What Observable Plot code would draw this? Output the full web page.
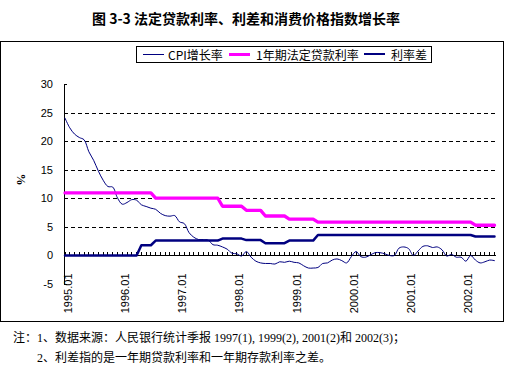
<!DOCTYPE html>
<html><head><meta charset="utf-8">
<script src="https://cdn.jsdelivr.net/npm/d3@7"></script>
<script src="https://cdn.jsdelivr.net/npm/@observablehq/plot@0.6"></script>
<style>
body{margin:0;background:#fff;}
#page{position:relative;width:506px;height:372px;background:#fff;overflow:hidden;font-family:"Noto Sans CJK SC",sans-serif;}
#title{position:absolute;left:0;width:492px;top:8px;text-align:center;font-weight:bold;font-size:14px;line-height:20px;color:#000;}
#box{position:absolute;left:0;top:41px;width:504px;height:281px;border:1px solid #000;box-sizing:border-box;}
#legend{position:absolute;left:136px;top:46px;width:296px;height:17px;border:1px solid #000;box-sizing:border-box;background:#fff;font-size:12px;line-height:15px;}
.sw{position:absolute;top:7px;height:0;}
.lt{position:absolute;top:0;color:#000;white-space:nowrap;}
#ylab{position:absolute;left:14px;top:172px;font-weight:bold;font-size:12px;transform:rotate(90deg);font-family:"Liberation Serif","Noto Sans CJK SC",serif;}
#chart{position:absolute;left:0;top:72px;}
.note{position:absolute;font-size:12px;line-height:16px;white-space:nowrap;font-family:"Liberation Serif","Noto Sans CJK SC",serif;color:#000;}
</style></head>
<body>
<div id="page">
  <div id="title">图 3-3 法定贷款利率、利差和消费价格指数增长率</div>
  <div id="box"></div>
  <div id="chart"></div>
  <div id="legend"></div>
  <div id="ylab">%</div>
  <div class="note" style="left:13px;top:330px;">注：1、数据来源：人民银行统计季报 1997(1), 1999(2), 2001(2)和 2002(3)；</div>
  <div class="note" style="left:37px;top:350px;">2、利差指的是一年期贷款利率和一年期存款利率之差。</div>
</div>
<script>
// Monthly series, 1995.01 – 2002.07
const seriesNames = ["CPI增长率", "1年期法定贷款利率", "利率差"];
const cpi = [
  24.1, 22.4, 21.3, 20.7, 20.3, 18.2, 16.7, 14.8, 13.2, 12.1, 12.0, 10.1,
  9.0, 9.3, 9.8, 9.7, 8.9, 8.6, 8.3, 8.1, 7.4, 7.0, 6.9, 7.0,
  5.9, 5.6, 4.0, 3.2, 2.8, 2.8, 2.7, 1.9, 1.8, 1.5, 1.1, 0.4,
  0.3, -0.1, 0.7, -0.3, -1.0, -1.3, -1.4, -1.4, -1.5, -1.1, -1.2, -1.0,
  -1.2, -1.3, -1.8, -2.2, -2.2, -2.1, -1.4, -1.3, -0.8, -0.6, -0.9, -1.3,
  -0.2, 0.7, -0.2, -0.3, 0.1, 0.5, 0.5, 0.3, 0.0, 0.0, 1.3, 1.5,
  1.2, 0.0, 0.8, 1.6, 1.7, 1.4, 1.5, 1.0, -0.1, 0.2, -0.3, -0.3,
  -1.0, 0.0, -0.8, -1.3, -1.1, -0.8, -0.9
];
const lendingRate = [
  10.98, 10.98, 10.98, 10.98, 10.98, 10.98, 10.98, 10.98, 10.98, 10.98, 10.98, 10.98,
  10.98, 10.98, 10.98, 10.98, 10.98, 10.98, 10.98, 10.08, 10.08, 10.08, 10.08, 10.08,
  10.08, 10.08, 10.08, 10.08, 10.08, 10.08, 10.08, 10.08, 10.08, 8.64, 8.64, 8.64,
  8.64, 8.64, 7.92, 7.92, 7.92, 7.92, 6.93, 6.93, 6.93, 6.93, 6.93, 6.39,
  6.39, 6.39, 6.39, 6.39, 6.39, 5.85, 5.85, 5.85, 5.85, 5.85, 5.85, 5.85,
  5.85, 5.85, 5.85, 5.85, 5.85, 5.85, 5.85, 5.85, 5.85, 5.85, 5.85, 5.85,
  5.85, 5.85, 5.85, 5.85, 5.85, 5.85, 5.85, 5.85, 5.85, 5.85, 5.85, 5.85,
  5.85, 5.85, 5.31, 5.31, 5.31, 5.31, 5.31
];
const spread = [
  0, 0, 0, 0, 0, 0, 0, 0, 0, 0, 0, 0,
  0, 0, 0, 0, 1.80, 1.80, 1.80, 2.61, 2.61, 2.61, 2.61, 2.61,
  2.61, 2.61, 2.61, 2.61, 2.61, 2.61, 2.61, 2.61, 2.61, 2.97, 2.97, 2.97,
  2.97, 2.97, 2.70, 2.70, 2.70, 2.70, 2.16, 2.16, 2.16, 2.16, 2.16, 2.61,
  2.61, 2.61, 2.61, 2.61, 2.61, 3.60, 3.60, 3.60, 3.60, 3.60, 3.60, 3.60,
  3.60, 3.60, 3.60, 3.60, 3.60, 3.60, 3.60, 3.60, 3.60, 3.60, 3.60, 3.60,
  3.60, 3.60, 3.60, 3.60, 3.60, 3.60, 3.60, 3.60, 3.60, 3.60, 3.60, 3.60,
  3.60, 3.60, 3.33, 3.33, 3.33, 3.33, 3.33
];
const xTickLabels = ["1995.01", "1996.01", "1997.01", "1998.01", "1999.01", "2000.01", "2001.01", "2002.01"];
const yTicks = [-5, 0, 5, 10, 15, 20, 25, 30];
const gridValues = [5, 10, 15, 20, 25];

const colors = {cpi: "#000080", lend: "#ff00ff", spread: "#000080"};

// month category labels
const months = [];
for (let y = 1995; y <= 2002; y++) for (let m = 1; m <= 12; m++) {
  if (months.length < cpi.length) months.push(`${y}.${String(m).padStart(2, "0")}`);
}
const firstMonth = months[0];
const rows = months.map((mo, i) => ({mo, cpi: cpi[i], lend: lendingRate[i], spread: spread[i]}));

const crisp = {shapeRendering: "crispEdges"};
const chart = Plot.plot({
  width: 506, height: 250,
  marginTop: 12, marginLeft: 64.5, marginRight: 12, marginBottom: 38.5,
  style: {fontFamily: "'Liberation Sans', Arial, sans-serif", fontSize: "11px", background: "transparent", color: "#000"},
  x: {type: "point", domain: months, padding: 0, axis: null},
  y: {domain: [d3.min(yTicks), d3.max(yTicks)], axis: null},
  marks: [
    Plot.ruleY(gridValues, {stroke: "#000", strokeDasharray: "4,3", insetRight: -2, insetLeft: -1, ...crisp}),
    Plot.ruleY([0], {stroke: "#000", strokeWidth: 1, insetRight: -2, insetLeft: -1, ...crisp}),
    Plot.ruleX(months, {x: d => d, y1: 0, y2: 0, insetTop: -3, stroke: "#000", ...crisp}),
    Plot.ruleX([firstMonth], {x: d => d, y1: d3.min(yTicks), y2: d3.max(yTicks), stroke: "#000", dx: -1, ...crisp}),
    Plot.ruleY(yTicks, {y: d => d, x1: () => firstMonth, x2: () => firstMonth, insetRight: -3, stroke: "#000", dx: -1, ...crisp}),
    Plot.text(yTicks, {x: () => firstMonth, y: d => d, text: d => String(d), textAnchor: "end", dx: -12, fill: "#000", fontSize: 11}),
    Plot.text(xTickLabels, {x: d => d, y: d3.min(yTicks), text: d => d, rotate: -90, textAnchor: "end", dy: -10.5, dx: 3, fill: "#000", fontSize: 11}),
    Plot.line(rows, {x: "mo", y: "cpi", stroke: colors.cpi, strokeWidth: 1, curve: "catmull-rom"}),
    Plot.line(rows, {x: "mo", y: "lend", stroke: colors.lend, strokeWidth: 3.3}),
    Plot.line(rows, {x: "mo", y: "spread", stroke: colors.spread, strokeWidth: 2.5})
  ]
});
document.getElementById("chart").appendChild(chart);

// legend
const legend = document.getElementById("legend");
const legendItems = [
  {name: seriesNames[0], color: colors.cpi, w: 1, sx: 6, tx: 31},
  {name: seriesNames[1], color: colors.lend, w: 3.3, sx: 92, tx: 119},
  {name: seriesNames[2], color: colors.spread, w: 2.5, sx: 227, tx: 254}
];
for (const it of legendItems) {
  const s = document.createElement("div");
  s.className = "sw";
  s.style.left = it.sx + "px";
  s.style.width = "21px";
  s.style.borderTop = `${it.w}px solid ${it.color}`;
  s.style.top = (7.5 - it.w / 2) + "px";
  legend.appendChild(s);
  const t = document.createElement("div");
  t.className = "lt";
  t.style.left = it.tx + "px";
  t.textContent = it.name;
  legend.appendChild(t);
}
</script>
</body></html>
